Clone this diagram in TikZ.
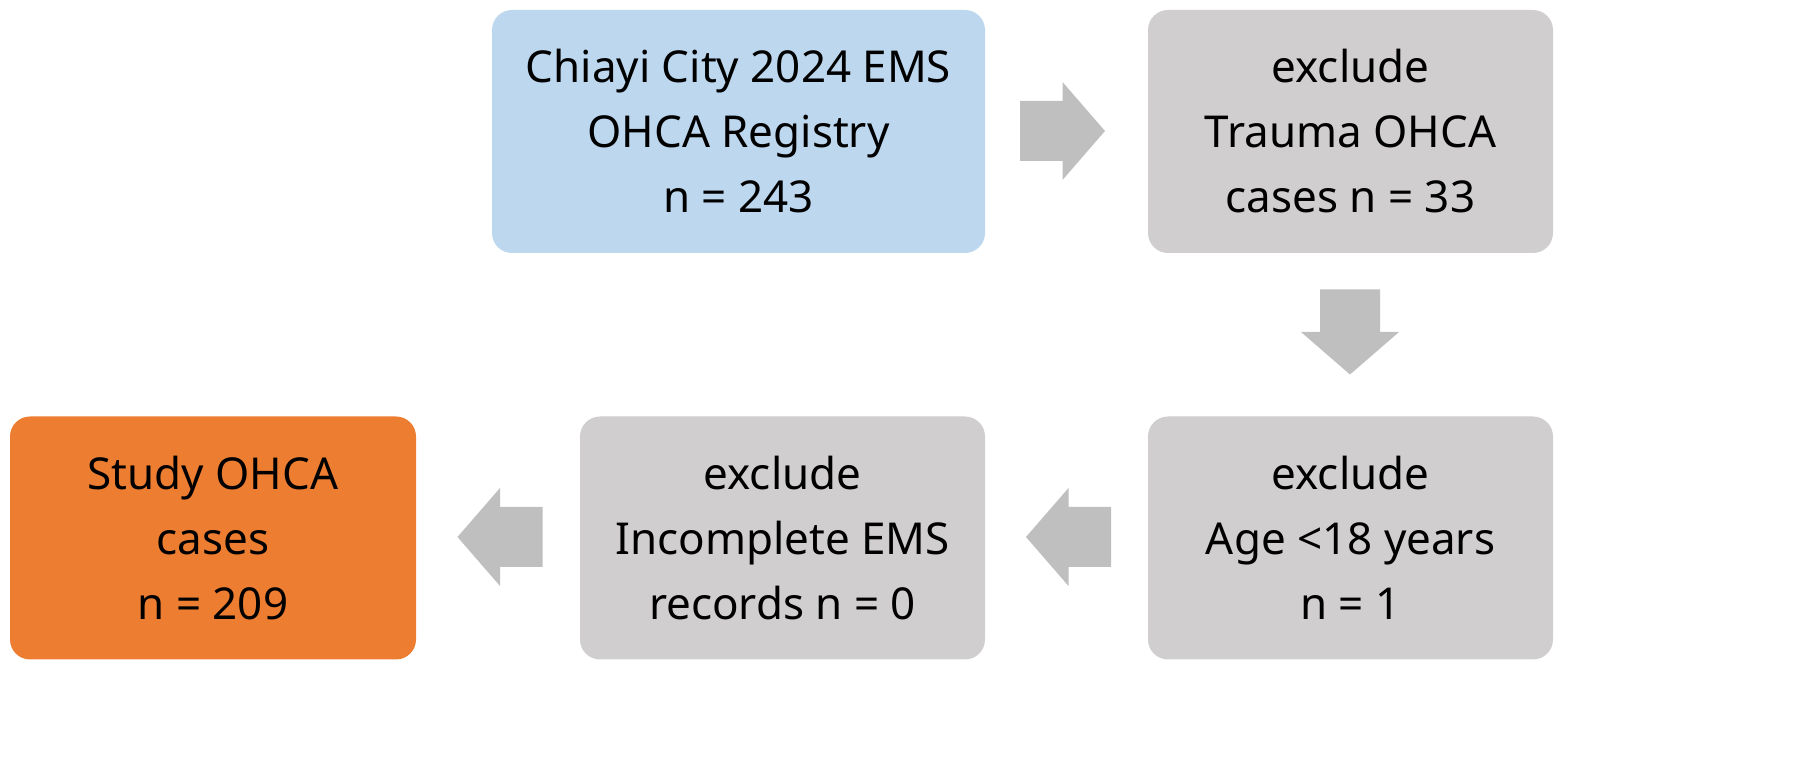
\documentclass[tikz,border=0pt]{standalone}
\usepackage{fontspec}
\setmainfont{Noto Sans}
\usetikzlibrary{positioning}
\definecolor{regblue}{HTML}{BDD7EE}
\definecolor{exgray}{HTML}{D0CECE}
\definecolor{studyorange}{HTML}{ED7D31}
\definecolor{arrowgray}{HTML}{BFBFBF}
\newcommand{\blockarrowpath}{(-0.425,0.3) -- (0,0.3) -- (0,0.49) -- (0.425,0) -- (0,-0.49) -- (0,-0.3) -- (-0.425,-0.3) -- cycle}
\tikzset{
  box/.style={rounded corners=0.2cm, minimum height=2.43cm, align=center,
    font=\fontsize{12.5}{18.5}\selectfont, inner sep=0pt},
  blockarrow/.style={fill=arrowgray, draw=none},
}
\begin{document}
\begin{tikzpicture}
  \useasboundingbox (0,0) rectangle (18.12,-7.80);

  % Boxes
  \node (reg) [box, fill=regblue, minimum width=4.93cm] at (7.385,-1.315)
    {Chiayi City 2024 EMS\\OHCA Registry\\n = 243};
  \node (trauma) [box, fill=exgray, minimum width=4.05cm] at (13.505,-1.315)
    {exclude\\Trauma OHCA\\cases n = 33};
  \node (age) [box, fill=exgray, minimum width=4.05cm] at (13.505,-5.38)
    {exclude\\Age <18 years\\n = 1};
  \node (incomp) [box, fill=exgray, minimum width=4.05cm] at (7.825,-5.38)
    {exclude\\Incomplete EMS\\records n = 0};
  \node (study) [box, fill=studyorange, minimum width=4.06cm] at (2.13,-5.38)
    {Study OHCA\\cases\\n = 209};

  % Block arrows
  \coordinate (a1) at (10.625,-1.31);
  \coordinate (a2) at (13.50,-3.32);
  \coordinate (a3) at (10.685,-5.37);
  \coordinate (a4) at (5.00,-5.37);
  \fill[blockarrow, shift={(a1)}] \blockarrowpath;
  \fill[blockarrow, shift={(a2)}, rotate=-90] \blockarrowpath;
  \fill[blockarrow, shift={(a3)}, rotate=180] \blockarrowpath;
  \fill[blockarrow, shift={(a4)}, rotate=180] \blockarrowpath;

\end{tikzpicture}
\end{document}
